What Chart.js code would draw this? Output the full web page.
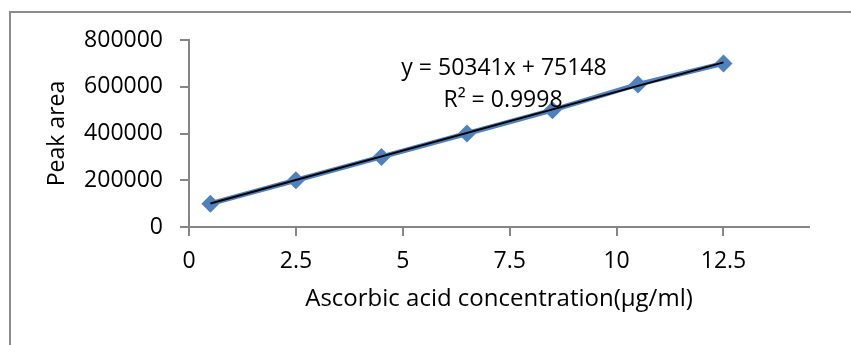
<!DOCTYPE html>
<html>
<head>
<meta charset="utf-8">
<script src="https://cdn.jsdelivr.net/npm/chart.js@4"></script>
<style>
    body { margin: 0; background: #fff; }
    #wrap { position: relative; width: 851px; height: 345px; }
    #frame {
        position: absolute; left: 9px; top: 11px; right: 0; bottom: 0;
        border-top: 2px solid #8c8c8c; border-left: 2px solid #8c8c8c;
        pointer-events: none;
    }
</style>
</head>
<body>
<div id="wrap">
    <canvas id="chart" width="851" height="345"></canvas>
    <div id="frame"></div>
</div>
<script>
// Calibration data
const concentrations = [0.5, 2.5, 4.5, 6.5, 8.5, 10.5, 12.5];
const peakAreas = [100000, 200000, 300000, 400000, 500000, 610000, 700000];
const yTicks = [0, 200000, 400000, 600000, 800000];
const xTicks = [0, 2.5, 5, 7.5, 10, 12.5];

// Trendline as printed on the chart
const slope = 50341;
const intercept = 75148;
const equationText = 'y = 50341x + 75148';
const r2Text = 'R² = 0.9998';

const fontFamily = '"Open Sans", "Liberation Sans", sans-serif';

const trendPoints = [concentrations[0], concentrations[concentrations.length - 1]]
    .map(x => ({ x: x, y: slope * x + intercept }));

// Draws the equation and R² text
const equationLabel = {
    id: 'equationLabel',
    afterDatasetsDraw(chart) {
        const ctx = chart.ctx;
        ctx.save();
        ctx.fillStyle = '#000';
        ctx.font = '23px ' + fontFamily;
        ctx.textAlign = 'center';
        ctx.textBaseline = 'middle';
        ctx.fillText(equationText, 504, 68);
        ctx.fillText(r2Text, 503, 100);
        ctx.restore();
    }
};

new Chart(document.getElementById('chart'), {
    type: 'scatter',
    data: {
        datasets: [{
            label: 'Linear',
            data: trendPoints,
            showLine: true,
            borderColor: '#000',
            borderWidth: 2,
            pointRadius: 0,
            order: 0
        }, {
            label: 'Peak area',
            data: concentrations.map((x, i) => ({ x: x, y: peakAreas[i] })),
            showLine: true,
            borderColor: '#4F81BD',
            borderWidth: 5,
            pointStyle: 'rectRot',
            pointRadius: 9,
            pointBackgroundColor: '#4F81BD',
            pointBorderColor: '#4F81BD',
            pointBorderWidth: 0,
            order: 1
        }]
    },
    options: {
        responsive: false,
        animation: false,
        layout: { padding: { top: 40, right: 42, left: 0, bottom: 0 } },
        plugins: {
            legend: { display: false },
            tooltip: { enabled: false }
        },
        scales: {
            x: {
                type: 'linear',
                min: 0,
                max: 14.5,
                afterFit: scale => { scale.height = 118; },
                afterBuildTicks: scale => { scale.ticks = xTicks.map(v => ({ value: v })); },
                ticks: {
                    color: '#000',
                    font: { size: 23, family: fontFamily },
                    padding: 12,
                    maxRotation: 0,
                    callback: v => String(v)
                },
                grid: { drawOnChartArea: false, color: '#868686', lineWidth: 2, tickLength: 9 },
                border: { color: '#868686', width: 2 },
                title: {
                    display: true,
                    text: 'Ascorbic acid concentration(µg/ml)',
                    color: '#000',
                    font: { size: 24, family: fontFamily },
                    padding: { top: 0, bottom: 31 }
                }
            },
            y: {
                min: 0,
                max: 800000,
                afterFit: scale => { scale.width = 189; },
                afterBuildTicks: scale => { scale.ticks = yTicks.map(v => ({ value: v })); },
                ticks: {
                    color: '#000',
                    font: { size: 23, family: fontFamily },
                    padding: 17,
                    callback: v => String(v)
                },
                grid: { drawOnChartArea: false, color: '#868686', lineWidth: 2, tickLength: 9 },
                border: { color: '#868686', width: 2 },
                title: {
                    display: true,
                    text: 'Peak area',
                    color: '#000',
                    font: { size: 23, family: fontFamily },
                    padding: { top: 44, bottom: 0 }
                }
            }
        }
    },
    plugins: [equationLabel]
});
</script>
</body>
</html>
